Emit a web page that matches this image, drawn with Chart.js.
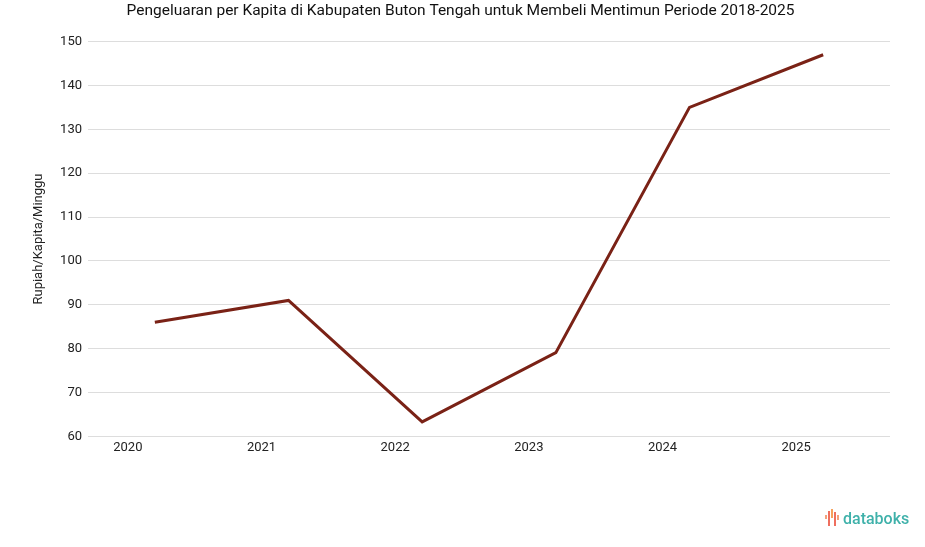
<!DOCTYPE html>
<html>
<head>
<meta charset="utf-8">
<script src="https://cdn.jsdelivr.net/npm/chart.js@4/dist/chart.umd.min.js"></script>
<style>
  html, body { margin: 0; padding: 0; background: #fff; }
</style>
</head>
<body>
<canvas id="myChart" width="925" height="547"></canvas>
<script>
const judul = 'Pengeluaran per Kapita di Kabupaten Buton Tengah untuk Membeli Mentimun Periode 2018-2025';
const tahun = ['2020', '2021', '2022', '2023', '2024', '2025'];
const pengeluaran = [86, 91, 63.3, 79.1, 135, 147];
const tickY = [60, 70, 80, 90, 100, 110, 120, 130, 140, 150];

// logo kecil di pojok kanan bawah
const logoDataboks = {
  id: 'logoDataboks',
  afterDraw(chart) {
    const ctx = chart.ctx;
    ctx.save();
    // [x, atas, tinggi, warna]
    const batang = [
      [825, 515, 4, '#f4a07a'],
      [828, 511, 15, '#ef6f5e'],
      [831, 509, 9, '#f5a25d'],
      [834, 512, 14, '#ef6f5e'],
      [837, 515, 5, '#f4a07a']
    ];
    batang.forEach(b => {
      ctx.fillStyle = b[3];
      ctx.fillRect(b[0], b[1], 2, b[2]);
    });
    ctx.fillStyle = '#3fb1aa';
    ctx.font = '500 16px Roboto, sans-serif';
    ctx.textBaseline = 'alphabetic';
    ctx.fillText('databoks', 843, 524);
    ctx.restore();
  }
};

const chartMentimun = new Chart(document.getElementById('myChart'), {
  type: 'line',
  data: {
    labels: tahun,
    datasets: [{
      label: 'Pengeluaran',
      data: pengeluaran,
      borderColor: '#7a2216',
      backgroundColor: '#7a2216',
      borderWidth: 3,
      pointRadius: 0,
      pointHoverRadius: 0,
      tension: 0
    }]
  },
  options: {
    responsive: false,
    animation: false,
    devicePixelRatio: 1,
    layout: { padding: { top: 2, right: 35, bottom: 87, left: 31 } },
    plugins: {
      legend: { display: false },
      tooltip: { enabled: false },
      title: {
        display: true,
        text: judul,
        color: '#111',
        font: { family: 'Roboto', size: 15.5, weight: 'normal' },
        padding: { top: 0, bottom: 21 }
      }
    },
    scales: {
      x: {
        offset: true,
        grid: { display: false, drawTicks: false },
        border: { display: false },
        ticks: {
          color: '#222',
          font: { family: 'Roboto', size: 13 },
          labelOffset: -27,
          padding: 4,
          maxRotation: 0,
          autoSkip: false
        }
      },
      y: {
        min: 60,
        max: 150,
        afterFit(scale) { scale.width = 57; },
        afterBuildTicks(scale) { scale.ticks = tickY.map(v => ({ value: v })); },
        grid: { color: '#dddddd', drawTicks: false, lineWidth: 1 },
        border: { display: false },
        ticks: {
          color: '#222',
          font: { family: 'Roboto', size: 13 },
          padding: 6
        },
        title: {
          display: true,
          text: 'Rupiah/Kapita/Minggu',
          color: '#222',
          font: { family: 'Roboto', size: 13 },
          padding: { top: 0, bottom: 0 }
        }
      }
    }
  },
  plugins: [logoDataboks]
});
</script>
</body>
</html>
